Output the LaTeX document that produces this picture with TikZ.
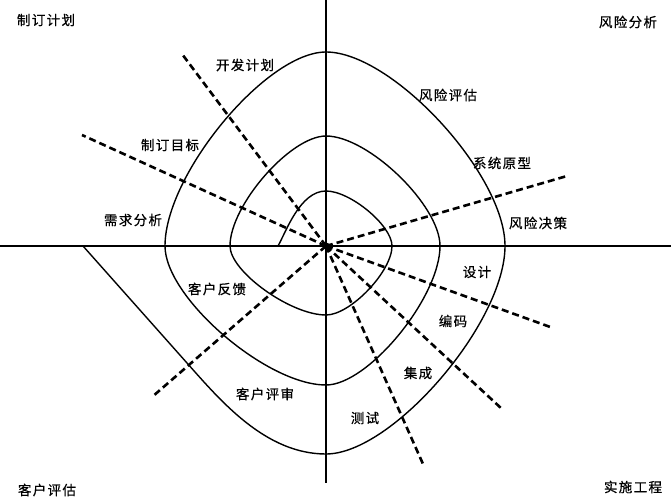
\documentclass[tikz,border=0pt]{standalone}
\usepackage{fontspec}
\newfontfamily\cjk[LetterSpace=10,FakeBold=0.6]{Noto Sans CJK SC}
\begin{document}
\begin{tikzpicture}[x=1pt,y=-1pt,
  axis/.style={line width=1.2pt,black},
  spiral/.style={line width=1.4pt,black},
  phase/.style={line width=2.6pt,black,dash pattern=on 7pt off 4pt},
  lbl/.style={font=\cjk\fontsize{13.5}{14}\selectfont,inner sep=0pt}]
\useasboundingbox (0,0) rectangle (671,500);
% axes
\coordinate (O) at (326,246);
\coordinate (xl) at (0,246);
\coordinate (xr) at (671,246);
\coordinate (yt) at (326,0);
\coordinate (yb) at (326,483);
\draw[axis] (xl) -- (xr);
\draw[axis] (yt) -- (yb);
% spiral
\draw[spiral] (278,246) .. controls (286,232) and (300,191) .. (326,191)
 .. controls (350.4,191) and (392,225.6) .. (392,246)
 .. controls (392,271.5) and (350.4,315) .. (326,315)
 .. controls (290.5,315) and (230,271.5) .. (230,246)
 .. controls (230,205.3) and (290.5,136) .. (326,136)
 .. controls (368.2,136) and (440,205.3) .. (440,246)
 .. controls (440,297.4) and (368.2,385) .. (326,385)
 .. controls (266.4,385) and (165,297.4) .. (165,246)
 .. controls (165,174.2) and (266.4,52) .. (326,52)
 .. controls (392.2,52) and (505,174.2) .. (505,246)
 .. controls (505,323) and (392.2,454) .. (326,454)
 .. controls (265,454) and (220,400) .. (187,363)
 -- (83,246);
% dashed phase lines
\coordinate (d1) at (182,54);
\coordinate (d2) at (82,135);
\coordinate (d3) at (567,176);
\coordinate (d4) at (152,397);
\coordinate (d5) at (553,328);
\coordinate (d6) at (502,409);
\coordinate (d7) at (423,464);
\foreach \e in {d1,d2,d3,d4,d5,d6,d7} \draw[phase] (O) -- (\e);
\fill (O) circle (3.6pt);
% quadrant titles
\node[lbl] (q1) at (46,20) {制订计划};
\node[lbl] (q2) at (628,22) {风险分析};
\node[lbl] (q3) at (47,490) {客户评估};
\node[lbl] (q4) at (633,487) {实施工程};
% activity labels
\node[lbl] (a1) at (245,65) {开发计划};
\node[lbl] (a2) at (170,145) {制订目标};
\node[lbl] (a3) at (133,220) {需求分析};
\node[lbl] (a4) at (448,95) {风险评估};
\node[lbl] (a5) at (502,163) {系统原型};
\node[lbl] (a6) at (538,223) {风险决策};
\node[lbl] (a7) at (477,272) {设计};
\node[lbl] (a8) at (453,321) {编码};
\node[lbl] (a9) at (418,373) {集成};
\node[lbl] (a10) at (365,418) {测试};
\node[lbl] (a11) at (217,289) {客户反馈};
\node[lbl] (a12) at (265,394) {客户评审};
\end{tikzpicture}
\end{document}
